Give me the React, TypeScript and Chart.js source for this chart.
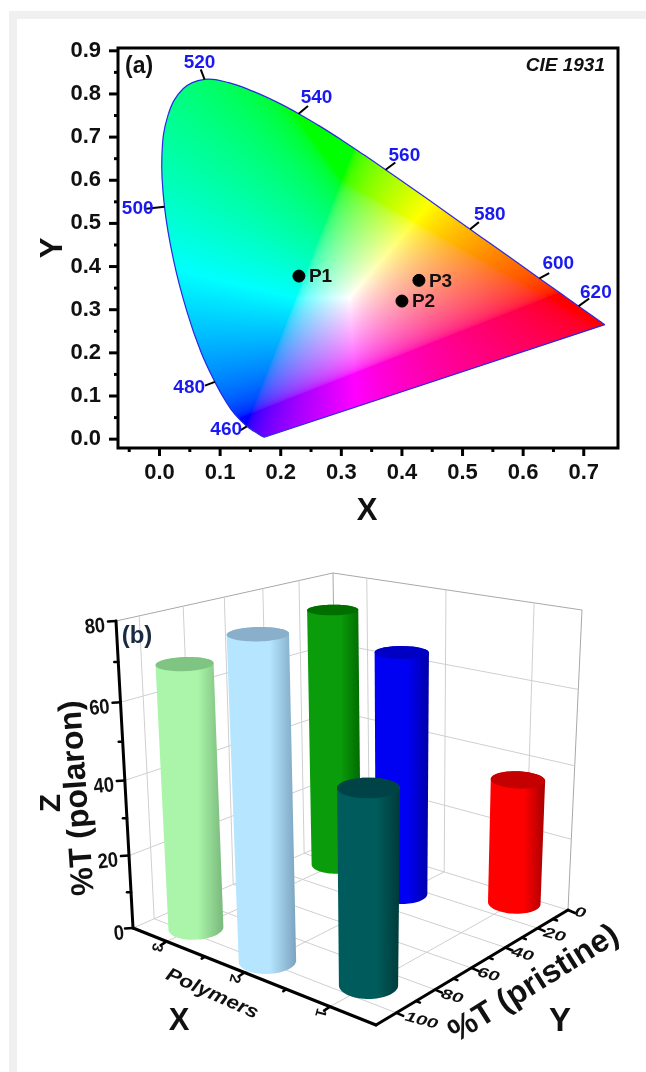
import React, { useEffect, useRef } from "react";
import { Chart, registerables } from "chart.js";
Chart.register(...registerables);

const FONT = "'Liberation Sans', Arial, sans-serif";

// ---------- Panel (a): CIE 1931 ----------
const locusWavelengths = [380,400,420,430,440,450,460,470,475,480,485,490,495,500,505,510,515,520,525,530,535,540,545,550,555,560,565,570,575,580,585,590,595,600,605,610,615,620,630,640,650,660,700];
const locusX = [.1741,.1733,.1714,.1689,.1644,.1566,.144,.1241,.1096,.0913,.0687,.0454,.0235,.0082,.0039,.0139,.0389,.0743,.1142,.1547,.1929,.2296,.2658,.3016,.3373,.3731,.4087,.4441,.4788,.5125,.5448,.5752,.6029,.627,.6482,.6658,.6801,.6915,.7079,.719,.726,.73,.7347];
const locusY = [.005,.0048,.0051,.0069,.0109,.0177,.0297,.0578,.0868,.1327,.2007,.295,.4127,.5384,.6548,.7502,.812,.8338,.8262,.8059,.7816,.7543,.7243,.6923,.6589,.6245,.5896,.5547,.5202,.4866,.4544,.4242,.3965,.3725,.3514,.334,.3197,.3083,.292,.2809,.274,.27,.2653];
const markedWavelengths = [460, 480, 500, 520, 540, 560, 580, 600, 620];
const markedLabelX = [.11, .049, -.036, .066, .259, .404, .545, .658, .72];
const markedLabelY = [.021, .118, .533, .873, .792, .657, .52, .407, .34];
const markedTickEndX = [.134, .075, -.022, .068, .245, .389, .527, .643, .709];
const markedTickEndY = [.021, .124, .534, .857, .772, .641, .503, .385, .326];
const samples = ["P1", "P2", "P3"];
const sampleX = [.23, .4, .428];
const sampleY = [.378, .32, .368];
const xTicksA = [0, .1, .2, .3, .4, .5, .6, .7];
const yTicksA = [0, .1, .2, .3, .4, .5, .6, .7, .8, .9];

function xyToRgb(x: number, y: number): number[] {
  const X = x / y, Y = 1, Z = (1 - x - y) / y;
  let r = 3.2406 * X - 1.5372 * Y - 0.4986 * Z;
  let g = -0.9689 * X + 1.8758 * Y + 0.0415 * Z;
  let b = 0.0557 * X - 0.204 * Y + 1.057 * Z;
  b += 0.25 * Math.max(0, -r);
  r = Math.max(r, 0); g = Math.max(g, 0); b = Math.max(b, 0);
  const m = Math.max(r, g, b) || 1;
  const f = (c: number) => 255 * Math.pow(c / m, 1 / 2.2);
  return [f(r), f(g), f(b)];
}

const locusPlugin = {
  id: "locusPlugin",
  beforeDatasetsDraw(chart: any) {
    const { ctx, chartArea: a, scales: { x, y } } = chart;
    const w = Math.round(a.width), h = Math.round(a.height);
    const off = document.createElement("canvas");
    off.width = w; off.height = h;
    const oc = off.getContext("2d")!;
    const img = oc.createImageData(w, h);
    for (let j = 0; j < h; j++) {
      const yv = y.getValueForPixel(a.top + j);
      for (let i = 0; i < w; i++) {
        const xv = x.getValueForPixel(a.left + i);
        if (yv <= 0.001) continue;
        const c = xyToRgb(xv, yv);
        const k = (j * w + i) * 4;
        img.data[k] = c[0]; img.data[k + 1] = c[1]; img.data[k + 2] = c[2]; img.data[k + 3] = 255;
      }
    }
    oc.putImageData(img, 0, 0);
    ctx.save();
    ctx.beginPath();
    chart.getDatasetMeta(0).dataset.path(ctx);
    ctx.closePath();
    ctx.clip();
    ctx.drawImage(off, a.left, a.top);
    ctx.restore();
  },
  afterDatasetsDraw(chart: any) {
    const { ctx, chartArea: a, scales: { x, y } } = chart;
    ctx.save();
    // wavelength ticks and labels
    ctx.strokeStyle = "#000";
    ctx.lineWidth = 2;
    markedWavelengths.forEach((w, i) => {
      const k = locusWavelengths.indexOf(w);
      ctx.beginPath();
      ctx.moveTo(x.getPixelForValue(locusX[k]), y.getPixelForValue(locusY[k]));
      ctx.lineTo(x.getPixelForValue(markedTickEndX[i]), y.getPixelForValue(markedTickEndY[i]));
      ctx.stroke();
    });
    ctx.fillStyle = "#1a1af0";
    ctx.font = `bold 19px ${FONT}`;
    ctx.textAlign = "center";
    ctx.textBaseline = "middle";
    markedWavelengths.forEach((w, i) => {
      ctx.fillText(String(w), x.getPixelForValue(markedLabelX[i]), y.getPixelForValue(markedLabelY[i]));
    });
    // sample labels
    ctx.fillStyle = "#111";
    ctx.font = `bold 19px ${FONT}`;
    ctx.textAlign = "left";
    samples.forEach((s, i) => {
      ctx.fillText(s, x.getPixelForValue(sampleX[i]) + 10, y.getPixelForValue(sampleY[i]) + 1);
    });
    // axis ticks
    ctx.lineWidth = 3;
    ctx.strokeStyle = "#000";
    for (let v = -.05; v <= .75; v += .05) {
      const p = x.getPixelForValue(v);
      const major = Math.abs(Math.round(v * 20) % 2) === 0;
      ctx.beginPath(); ctx.moveTo(p, a.bottom); ctx.lineTo(p, a.bottom + (major ? 8 : 4)); ctx.stroke();
    }
    for (let v = 0; v <= .9001; v += .05) {
      const p = y.getPixelForValue(v);
      const major = Math.round(v * 20) % 2 === 0;
      ctx.beginPath(); ctx.moveTo(a.left, p); ctx.lineTo(a.left - (major ? 9 : 4), p); ctx.stroke();
    }
    // box
    ctx.lineWidth = 3;
    ctx.strokeRect(a.left, a.top, a.right - a.left, a.bottom - a.top);
    // captions
    ctx.fillStyle = "#111";
    ctx.textBaseline = "middle";
    ctx.textAlign = "left";
    ctx.font = `bold 23px ${FONT}`;
    ctx.fillText("(a)", 125, 67);
    ctx.font = `italic bold 19px ${FONT}`;
    ctx.textAlign = "right";
    ctx.fillText("CIE 1931", 605, 66);
    ctx.textAlign = "center";
    ctx.font = `bold 31px ${FONT}`;
    ctx.fillText("X", 367, 511);
    ctx.save();
    ctx.translate(53, 248);
    ctx.rotate(-Math.PI / 2);
    ctx.fillText("Y", 0, 0);
    ctx.restore();
    ctx.restore();
  },
};

// ---------- Panel (b): 3D cylinders ----------
const polymers = [3, 2, 1, 3, 2, 1];
const pristineT = [20.4, 26.5, 7.1, 96, 99, 91];
const polaronT = [73.6, 66.9, 34.7, 69.5, 81.2, 49];
const bodyColors = ["#0a9c0a", "#0000f2", "#ff0000", "#aaf5aa", "#b6e6ff", "#005c5c"];
const shadeColors = ["#006a00", "#0000a8", "#a80000", "#79b87c", "#7ba3bf", "#003a3a"];
const capColors = ["#006f00", "#0000c4", "#c40000", "#7fc482", "#8aafcb", "#004347"];
const polymerTicks = [1, 2, 3];
const polymerMinor = [1.5, 2.5];
const pristineTicks = [0, 20, 40, 60, 80, 100];
const pristineMinor = [10, 30, 50, 70, 90];
const polaronTicks = [0, 20, 40, 60, 80];
const polaronMinor = [10, 30, 50, 70];

const S_MAX = 3.46, S_MIN = 0.5, T_MAX = 110, Z_MAX = 80, CYL_R = 0.087, Z_PERSP = 1.08;

type P = [number, number];
// camera calibration: image of the plot box corners
const FLOOR: P[] = [[337, 839], [568, 910], [376, 1025], [133, 928]];
const CEIL: P[] = [[333, 573], [582, 610], [378, 677], [116, 621]];

function homography(q: P[]) {
  const [[x0, y0], [x1, y1], [x2, y2], [x3, y3]] = q;
  const dx1 = x1 - x2, dx2 = x3 - x2, sx = x0 - x1 + x2 - x3;
  const dy1 = y1 - y2, dy2 = y3 - y2, sy = y0 - y1 + y2 - y3;
  const den = dx1 * dy2 - dx2 * dy1;
  const g = (sx * dy2 - dx2 * sy) / den, h = (dx1 * sy - sx * dy1) / den;
  const a = x1 - x0 + g * x1, b = x3 - x0 + h * x3, c = x0;
  const d = y1 - y0 + g * y1, e = y3 - y0 + h * y3, f = y0;
  return (u: number, v: number): P => {
    const w = g * u + h * v + 1;
    return [(a * u + b * v + c) / w, (d * u + e * v + f) / w];
  };
}
const floorH = homography(FLOOR);
const ceilH = homography(CEIL);
const projUV = (u: number, v: number, z: number): P => {
  const f = floorH(u, v), c = ceilH(u, v), fr = z / Z_MAX;
  const k = fr / (Z_PERSP - (Z_PERSP - 1) * fr);
  return [f[0] + (c[0] - f[0]) * k, f[1] + (c[1] - f[1]) * k];
};
const uOf = (s: number) => (S_MAX - s) / (S_MAX - S_MIN);
const vOf = (t: number) => t / T_MAX;
const project = (s: number, t: number, z: number) => projUV(uOf(s), vOf(t), z);
const pt = (p: P) => ({ x: p[0], y: p[1] });

function hull(points: P[]): P[] {
  const pts = [...points].sort((a, b) => a[0] - b[0] || a[1] - b[1]);
  const cross = (o: P, a: P, b: P) => (a[0] - o[0]) * (b[1] - o[1]) - (a[1] - o[1]) * (b[0] - o[0]);
  const lo: P[] = [], up: P[] = [];
  for (const p of pts) { while (lo.length >= 2 && cross(lo[lo.length - 2], lo[lo.length - 1], p) <= 0) lo.pop(); lo.push(p); }
  for (const p of [...pts].reverse()) { while (up.length >= 2 && cross(up[up.length - 2], up[up.length - 1], p) <= 0) up.pop(); up.push(p); }
  return lo.slice(0, -1).concat(up.slice(0, -1));
}

function circle(i: number, z: number): P[] {
  const u = uOf(polymers[i]), v = vOf(pristineT[i]);
  const out: P[] = [];
  for (let k = 0; k < 72; k++) {
    const th = (k / 72) * Math.PI * 2;
    out.push(projUV(u + CYL_R * Math.cos(th), v + CYL_R * Math.sin(th), z));
  }
  return out;
}

const polyPath = (ctx: CanvasRenderingContext2D, x: any, y: any, pts: P[]) => {
  ctx.beginPath();
  pts.forEach((p, i) => {
    const px = x.getPixelForValue(p[0]), py = y.getPixelForValue(p[1]);
    i ? ctx.lineTo(px, py) : ctx.moveTo(px, py);
  });
  ctx.closePath();
};

const cylinderPlugin = {
  id: "cylinderPlugin",
  afterDatasetsDraw(chart: any) {
    const { ctx, scales: { x, y } } = chart;
    ctx.save();
    [0, 1, 2, 3, 4, 5].forEach((i) => {
      const top = circle(i, polaronT[i]);
      const base = circle(i, 0);
      const all = top.concat(base);
      const xs = all.map((p) => p[0]);
      const l = Math.min(...xs), r = Math.max(...xs);
      const grad = ctx.createLinearGradient(x.getPixelForValue(l), 0, x.getPixelForValue(r), 0);
      grad.addColorStop(0, bodyColors[i]);
      grad.addColorStop(0.62, bodyColors[i]);
      grad.addColorStop(1, shadeColors[i]);
      polyPath(ctx, x, y, hull(all));
      ctx.fillStyle = grad;
      ctx.fill();
      polyPath(ctx, x, y, top);
      ctx.fillStyle = capColors[i];
      ctx.fill();
    });
    // axes
    ctx.strokeStyle = "#000";
    ctx.lineWidth = 3;
    ctx.lineCap = "round";
    const seg = (a: P, b: P, lw: number) => {
      ctx.lineWidth = lw;
      ctx.beginPath();
      ctx.moveTo(x.getPixelForValue(a[0]), y.getPixelForValue(a[1]));
      ctx.lineTo(x.getPixelForValue(b[0]), y.getPixelForValue(b[1]));
      ctx.stroke();
    };
    seg(projUV(0, 1, 0), projUV(0, 1, Z_MAX), 3);
    seg(projUV(0, 1, 0), projUV(1, 1, 0), 3);
    seg(projUV(1, 1, 0), projUV(1, 0, 0), 3);
    const zBase = (z: number) => projUV(0, 1, z);
    polaronTicks.forEach((z) => { const p = zBase(z); seg(p, [p[0] - 8, p[1] + 0.5], 2.5); });
    polaronMinor.forEach((z) => { const p = zBase(z); seg(p, [p[0] - 4, p[1]], 2.5); });
    polymerTicks.forEach((s) => { const p = project(s, T_MAX, 0); seg(p, [p[0] - 6, p[1] + 4], 2.5); });
    polymerMinor.forEach((s) => { const p = project(s, T_MAX, 0); seg(p, [p[0] - 3, p[1] + 2], 2.5); });
    pristineTicks.forEach((t) => { const p = project(S_MIN, t, 0); seg(p, [p[0] + 7, p[1] + 3], 2.5); });
    pristineMinor.forEach((t) => { const p = project(S_MIN, t, 0); seg(p, [p[0] + 4, p[1] + 1.5], 2.5); });

    const rotText = (txt: string, px: number, py: number, deg: number, font: string, col = "#111", sx = 1, sy = 1) => {
      ctx.save();
      ctx.translate(x.getPixelForValue(px), y.getPixelForValue(py));
      ctx.rotate((deg * Math.PI) / 180);
      ctx.scale(sx, sy);
      ctx.font = font;
      ctx.fillStyle = col;
      ctx.textAlign = "center";
      ctx.textBaseline = "middle";
      ctx.fillText(txt, 0, 0);
      ctx.restore();
    };
    polaronTicks.forEach((z) => {
      const p = zBase(z);
      rotText(String(z), p[0] - (z === 0 ? 14 : 21), p[1] + 6, -6, `bold 21px ${FONT}`, "#111", 0.88, 1);
    });
    polymerTicks.forEach((s) => {
      const p = project(s, T_MAX, 0);
      rotText(String(s), p[0] - 10, p[1] + 6, 105, `bold 15px ${FONT}`);
    });
    pristineTicks.forEach((t) => {
      const p = project(S_MIN, t, 0);
      const dx = t === 0 ? 12 : t === 100 ? 25 : 17;
      const dy = t === 0 ? 3 : t === 100 ? 8 : 7;
      rotText(String(t), p[0] + dx, p[1] + dy, 15, `italic bold 20px ${FONT}`, "#111", 1, 0.7);
    });
    rotText("(b)", 137, 636, 0, `bold 24px ${FONT}`, "#1a2a40");
    rotText("Polymers", 212, 994, 24, `italic bold 22px ${FONT}`, "#111", 1, 0.85);
    rotText("X", 179, 1021, 0, `bold 31px ${FONT}`);
    rotText("%T (pristine)", 534, 984, -32, `bold 32px ${FONT}`);
    rotText("Y", 560, 1022, 0, `bold 33px ${FONT}`);
    rotText("%T (polaron)", 78, 798, -94, `bold 32px ${FONT}`);
    rotText("Z", 52, 803, -90, `bold 30px ${FONT}`);
    ctx.restore();
  },
};

function gridDatasets() {
  const sep = { x: NaN, y: NaN };
  const light: any[] = [];
  const add = (a: P, b: P) => { light.push(pt(a), pt(b), sep); };
  polaronTicks.slice(1, -1).forEach((z) => {
    add(projUV(0, 1, z), projUV(0, 0, z));
    add(projUV(0, 0, z), projUV(1, 0, z));
  });
  pristineTicks.slice(1).forEach((t) => {
    add(project(S_MAX, t, 0), project(S_MAX, t, Z_MAX));
    add(project(S_MAX, t, 0), project(S_MIN, t, 0));
  });
  polymerTicks.forEach((s) => {
    add(project(s, 0, 0), project(s, 0, Z_MAX));
    add(project(s, 0, 0), project(s, T_MAX, 0));
  });
  add(projUV(0, 0, 0), projUV(1, 0, 0));
  add(projUV(0, 0, 0), projUV(0, 1, 0));
  const frame = [pt(projUV(0, 1, Z_MAX)), pt(projUV(0, 0, Z_MAX)), pt(projUV(1, 0, Z_MAX)), pt(projUV(1, 0, 0)), sep, pt(projUV(0, 0, 0)), pt(projUV(0, 0, Z_MAX))];
  return [
    { data: light, borderColor: "#cfcfcf", borderWidth: 1, pointRadius: 0, showLine: true, spanGaps: false },
    { data: frame, borderColor: "#a8a8a8", borderWidth: 1, pointRadius: 0, showLine: true, spanGaps: false },
  ];
}

export default function App() {
  const refA = useRef<HTMLCanvasElement>(null);
  const refB = useRef<HTMLCanvasElement>(null);
  useEffect(() => {
    const n = locusX.length - 1;
    const chartA = new Chart(refA.current!, {
      type: "scatter",
      data: {
        datasets: [
          {
            label: "Spectral locus",
            data: locusX.map((x, i) => ({ x, y: locusY[i] })),
            showLine: true, borderColor: "#2a2ae0", borderWidth: 1.2, pointRadius: 0, tension: 0.4,
          },
          {
            label: "Line of purples",
            data: [{ x: locusX[n], y: locusY[n] }, { x: locusX[0], y: locusY[0] }],
            showLine: true, borderColor: "#2a2ae0", borderWidth: 1.2, pointRadius: 0,
          },
          {
            label: "Polymers",
            data: sampleX.map((x, i) => ({ x, y: sampleY[i] })),
            backgroundColor: "#000", borderColor: "#000", pointRadius: 6,
          },
        ],
      },
      plugins: [locusPlugin],
      options: {
        animation: false, responsive: false, devicePixelRatio: 1,
        layout: { padding: { left: 0, right: 28, top: 48, bottom: 0 } },
        plugins: { legend: { display: false }, tooltip: { enabled: false } },
        scales: {
          x: {
            type: "linear", min: -.0685, max: .7565, grid: { display: false }, border: { display: false },
            afterBuildTicks: (s: any) => { s.ticks = xTicksA.map((value) => ({ value })); },
            afterFit: (s: any) => { s.height = 540 - 448; },
            ticks: { padding: 4, maxRotation: 0, color: "#111", font: { family: FONT, size: 22, weight: "bold" }, callback: (v: any) => Number(v).toFixed(1) },
          },
          y: {
            type: "linear", min: -.0205, max: .9065, grid: { display: false }, border: { display: false },
            afterBuildTicks: (s: any) => { s.ticks = yTicksA.map((value) => ({ value })); },
            afterFit: (s: any) => { s.width = 118; },
            ticks: { padding: 9, color: "#111", font: { family: FONT, size: 22, weight: "bold" }, callback: (v: any) => Number(v).toFixed(1) },
          },
        },
      },
    } as any);
    const chartB = new Chart(refB.current!, {
      type: "scatter",
      data: {
        datasets: [
          ...gridDatasets(),
          ...polymers.map((s, i) => ({
            label: `Polymer ${s}`,
            data: [pt(project(s, pristineT[i], 0)), pt(project(s, pristineT[i], polaronT[i]))],
            pointRadius: 0, showLine: false, borderColor: bodyColors[i], backgroundColor: bodyColors[i],
          })),
        ],
      },
      plugins: [cylinderPlugin],
      options: {
        animation: false, responsive: false, devicePixelRatio: 1,
        layout: { padding: 0 },
        plugins: { legend: { display: false }, tooltip: { enabled: false } },
        scales: {
          x: { type: "linear", min: 0, max: 646, display: false },
          y: { type: "linear", min: 540, max: 1072, reverse: true, display: false },
        },
      },
    } as any);
    return () => { chartA.destroy(); chartB.destroy(); };
  }, []);
  const blur = "blur(0.45px)";
  return (
    <div style={{ position: "absolute", left: 0, top: 0, width: 646, height: 1072, background: "#fff", overflow: "hidden" }}>
      <div style={{ position: "absolute", left: 9, top: 11, width: 8, height: 1061, background: "#f0f0f0" }} />
      <div style={{ position: "absolute", left: 9, top: 11, width: 637, height: 8, background: "#f0f0f0" }} />
      <canvas ref={refA} width={646} height={540} style={{ position: "absolute", left: 0, top: 0, width: 646, height: 540, filter: blur }} />
      <canvas ref={refB} width={646} height={532} style={{ position: "absolute", left: 0, top: 540, width: 646, height: 532, filter: blur }} />
    </div>
  );
}
